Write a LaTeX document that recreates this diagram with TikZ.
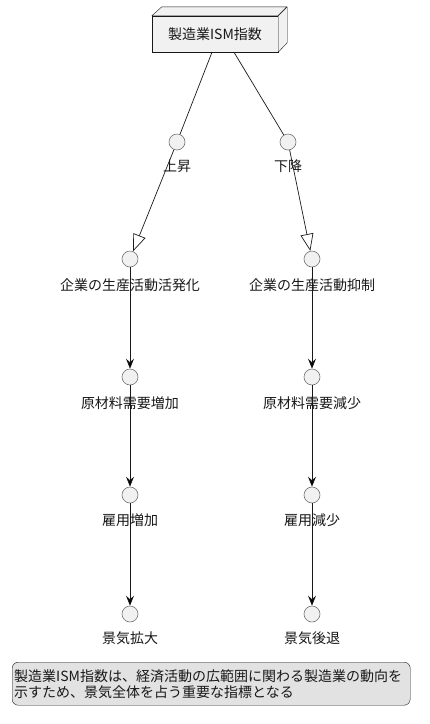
\documentclass[tikz,border=0pt]{standalone}
\usepackage{fontspec}
\setmainfont{Noto Sans CJK JP}
\usepackage{xcolor}
\usetikzlibrary{
    positioning,
    arrows.meta,
    calc
}
\definecolor{boxfill}{HTML}{F1F1F1}
\definecolor{notefill}{HTML}{E2E2E2}
\definecolor{inkline}{HTML}{181818}
\tikzset{
  basic/.style = {
      font=\fontsize{14}{16}\selectfont,
      text=inkline
  },
  indexbox/.style = {
      basic,
      draw=inkline,
      fill=boxfill,
      rectangle,
      minimum width=126pt,
      minimum height=36pt,
      inner sep=0pt
  },
  face/.style = {
      draw=inkline,
      fill=boxfill,
      line join=round
  },
  state/.style = {
      circle,
      draw=black!55,
      fill=boxfill,
      minimum size=16pt,
      inner sep=0pt,
      line width=0.6pt
  },
  caption/.style = {
      basic,
      inner sep=0pt
  },
  memo/.style = {
      basic,
      draw=inkline,
      fill=notefill,
      rounded corners=6pt,
      align=left,
      text width=394pt,
      inner xsep=2pt,
      inner ysep=4pt,
      minimum height=43pt,
      anchor=north west
  },
  edge/.style = {
      draw=inkline,
      line width=0.7pt
  },
  flow/.style = {
      edge,
      -{Stealth[length=10pt,width=8pt,inset=3.5pt]}
  },
  branch/.style = {
      edge,
      -{Triangle[open,length=17pt,width=13pt]}
  }
}

\begin{document}
\begin{tikzpicture}[x=1pt, y=1pt]
    \useasboundingbox (0,0) rectangle (430,-724);
    % Nodes
    \node[indexbox] (ism) at (215,-34) {};
    \path[face] (ism.north west) -- ++(10,9) -- ++(125,0) -- ++(-9,-9) -- cycle;
    \path[face] (ism.north east) -- ++(9,9) -- ++(0,-36) -- (ism.south east) -- cycle;
    \node[basic] at (ism.center) {製造業ISM指数};
    \node[state] (up) at (177,-142) {};
    \node[state] (down) at (288,-142) {};
    \node[state] (a1) at (130,-259) {};
    \node[state] (a2) at (130,-377) {};
    \node[state] (a3) at (130,-495) {};
    \node[state] (a4) at (130,-614) {};
    \node[state] (b1) at (312,-259) {};
    \node[state] (b2) at (312,-377) {};
    \node[state] (b3) at (312,-495) {};
    \node[state] (b4) at (312,-614) {};
    % Edges
    \path[edge]
    ([xshift=-3pt]ism.south) edge (up)
    ([xshift=19pt]ism.south) edge (down);
    \path[branch]
    (up) edge (a1)
    (down) edge (b1);
    \path[flow]
    (a1) edge (a2)
    (a2) edge (a3)
    (a3) edge (a4)
    (b1) edge (b2)
    (b2) edge (b3)
    (b3) edge (b4);
    % Labels
    \node[caption] (lup) at ([yshift=-24pt]up) {上昇};
    \node[caption] (ldown) at ([yshift=-24pt]down) {下降};
    \node[caption] (la1) at ([yshift=-26pt]a1) {企業の生産活動活発化};
    \node[caption] (la2) at ([yshift=-26pt]a2) {原材料需要増加};
    \node[caption] (la3) at ([yshift=-25pt]a3) {雇用増加};
    \node[caption] (la4) at ([yshift=-24pt]a4) {景気拡大};
    \node[caption] (lb1) at ([yshift=-26pt]b1) {企業の生産活動抑制};
    \node[caption] (lb2) at ([yshift=-26pt]b2) {原材料需要減少};
    \node[caption] (lb3) at ([yshift=-25pt]b3) {雇用減少};
    \node[caption] (lb4) at ([yshift=-24pt]b4) {景気後退};
    % Note
    \node[memo] (note) at (12,-662) {製造業ISM指数は、経済活動の広範囲に関わる製造業の動向を\\示すため、景気全体を占う重要な指標となる};
\end{tikzpicture}
\end{document}
